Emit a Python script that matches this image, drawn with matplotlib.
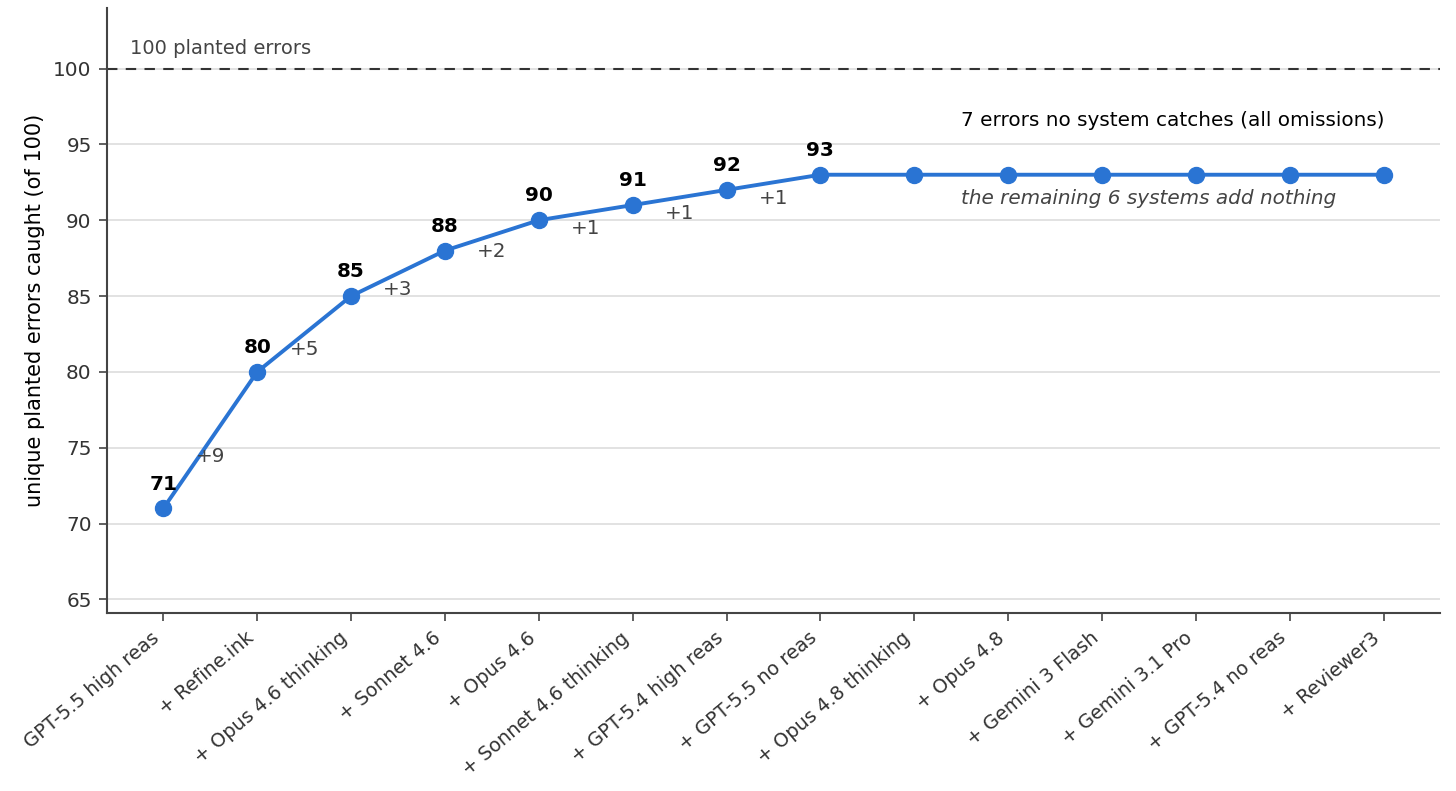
import matplotlib
matplotlib.use("Agg")
import matplotlib.pyplot as plt

systems = ["GPT-5.5 high reas", "+ Refine.ink", "+ Opus 4.6 thinking", "+ Sonnet 4.6",
           "+ Opus 4.6", "+ Sonnet 4.6 thinking", "+ GPT-5.4 high reas", "+ GPT-5.5 no reas",
           "+ Opus 4.8 thinking", "+ Opus 4.8", "+ Gemini 3 Flash", "+ Gemini 3.1 Pro",
           "+ GPT-5.4 no reas", "+ Reviewer3"]
caught = [71, 80, 85, 88, 90, 91, 92, 93, 93, 93, 93, 93, 93, 93]
yticks = [65, 70, 75, 80, 85, 90, 95, 100]
total_planted = 100

blue = "#2a74d3"
fs = 14.4
fig = plt.figure(figsize=(14.56, 7.91), dpi=100)
ax = fig.add_axes([0.0735, 0.225, 0.9155, 0.765])

x = list(range(len(systems)))
ax.plot(x, caught, color=blue, lw=2.8, marker="o", markersize=11.5, zorder=3)

ax.axhline(total_planted, color="#333333", lw=1.5, ls=(0, (5, 4)), zorder=2)
ax.text(-0.35, 100.7, "100 planted errors", fontsize=14, color="#444444", va="bottom", ha="left")

prev = None
for i, v in enumerate(caught):
    if prev is None or v > prev:
        ax.annotate(str(v), (i, v), xytext=(0, 17.5), textcoords="offset points",
                    ha="center", va="center", fontsize=fs, fontweight="bold", color="black")
    if prev is not None and v > prev:
        ax.annotate(f"+{v - prev}", (i - 0.5, (v + prev) / 2), xytext=(0, -11.5),
                    textcoords="offset points", ha="center", va="center",
                    fontsize=fs, color="#444444")
    prev = v

ax.text(8.5, 96.6, "7 errors no system catches (all omissions)", fontsize=fs,
        color="black", ha="left", va="center")
ax.text(8.5, 91.45, "the remaining 6 systems add nothing", fontsize=fs,
        color="#444444", style="italic", ha="left", va="center")

ax.set_xlim(-0.6, 13.6)
ax.set_ylim(64.1, 104)
ax.set_yticks(yticks)
ax.set_xticks(x)
ax.set_xticklabels(systems, rotation=40, ha="right", fontsize=13.9, color="#333333")
ax.tick_params(axis="y", labelsize=fs, labelcolor="#333333")
ax.tick_params(axis="both", length=6, width=1.2, color="#444444", pad=5)
ax.set_ylabel("unique planted errors caught (of 100)", fontsize=15, color="black", labelpad=6)

ax.grid(axis="y", color="#dddddd", lw=1.2, zorder=0)
ax.set_axisbelow(True)
for s in ["top", "right"]:
    ax.spines[s].set_visible(False)
for s in ["left", "bottom"]:
    ax.spines[s].set_color("#444444")
    ax.spines[s].set_linewidth(1.5)

fig.savefig("out.png", dpi=100)
